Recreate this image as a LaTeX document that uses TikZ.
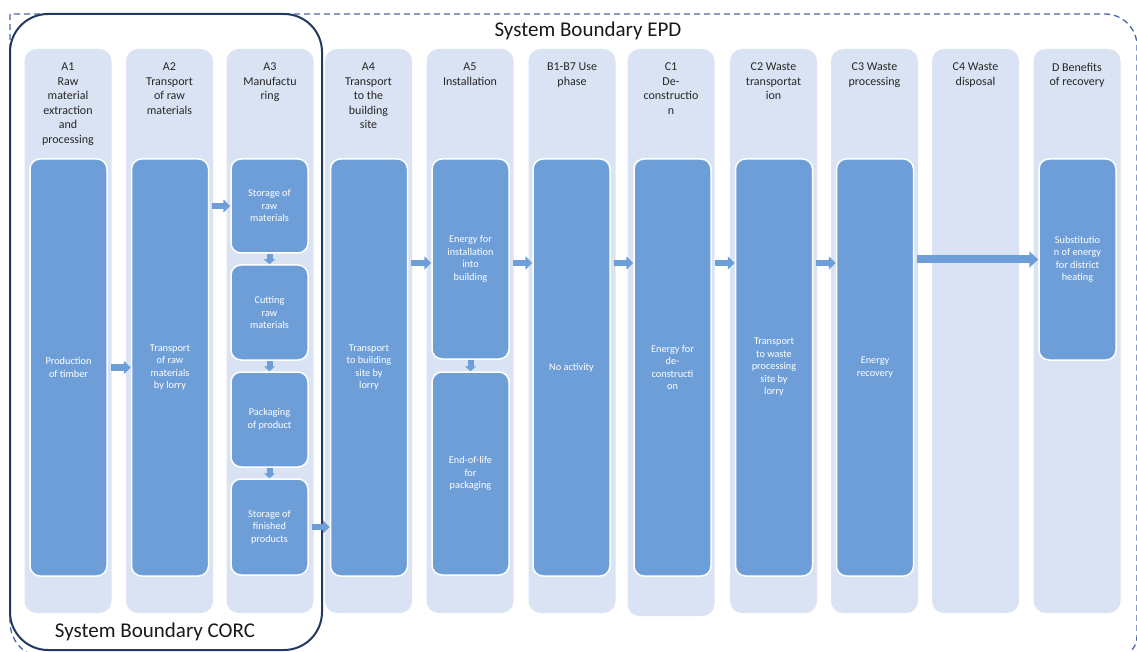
\documentclass[tikz,border=0pt]{standalone}
\usepackage{fontspec}
\setmainfont{Carlito}
\usetikzlibrary{arrows.meta}
\definecolor{panelfill}{RGB}{218,227,243}
\definecolor{boxfill}{RGB}{110,158,216}
\definecolor{corcline}{RGB}{34,56,98}
\definecolor{epdline}{RGB}{74,104,165}
\tikzset{
 panel/.style={draw=none, fill=panelfill, rounded corners=12pt, minimum width=87pt, inner sep=0pt},
 innerbox/.style={draw=white, line width=1.5pt, fill=boxfill, rounded corners=10pt, minimum width=77pt, inner sep=0pt, text=white, align=center, font=\fontsize{10.3}{12.5}\selectfont},
 header/.style={anchor=north, align=center, inner sep=0pt, font=\fontsize{12}{14.5}\selectfont, text=black!85},
 flow/.style={draw=boxfill, line width=6.5pt, shorten <=3pt, -{Triangle[length=7pt,width=13pt]}},
 bigflow/.style={draw=boxfill, line width=8pt, shorten <=3pt, -{Triangle[length=9pt,width=16pt]}},
 downflow/.style={draw=boxfill, line width=6pt, -{Triangle[length=5pt,width=11pt]}},
 boundlabel/.style={font=\fontsize{21}{25}\selectfont, inner sep=0pt, text=black!90},
 epd/.style={draw=epdline, line width=1.3pt, dash pattern=on 6pt off 4pt},
 corc/.style={draw=corcline, line width=2pt, rounded corners=38pt, minimum width=312pt, minimum height=636pt, inner sep=0pt},
}
\begin{document}
\begin{tikzpicture}[x=1pt,y=-1pt]
\useasboundingbox (0,0) rectangle (1137,652);
% EPD boundary
\draw[epd] (10,330) -- (10,14) [rounded corners=32pt] -- (1137,14) [rounded corners=22pt] -- (1137,658) [rounded corners=36pt] -- (10,658) [rounded corners=32pt] -- (10,330);
% panels
\node[panel, minimum height=564pt] (pA1) at (68,331) {};
\node[panel, minimum height=564pt] (pA2) at (169.5,331) {};
\node[panel, minimum height=564pt] (pA3) at (270,331) {};
\node[panel, minimum height=564pt] (pA4) at (368.5,331) {};
\node[panel, minimum height=564pt] (pA5) at (470,331) {};
\node[panel, minimum height=564pt] (pB) at (572,331) {};
\node[panel, minimum height=567pt] (pC1) at (671,332.5) {};
\node[panel, minimum height=564pt] (pC2) at (773.5,331) {};
\node[panel, minimum height=564pt] (pC3) at (874.5,331) {};
\node[panel, minimum height=564pt] (pC4) at (975.5,331) {};
\node[panel, minimum height=564pt] (pD) at (1077,331) {};
% CORC boundary
\node[corc] (corc) at (166,332) {};
% headers
\node[header] (hA1) at (68,63) {A1\\Raw\\material\\extraction\\and\\processing};
\node[header] (hA2) at (169.5,63) {A2\\Transport\\of raw\\materials};
\node[header] (hA3) at (270,63) {A3\\Manufactu\\ring};
\node[header] (hA4) at (368.5,63) {A4\\Transport\\to the\\building\\site};
\node[header] (hA5) at (470,63) {A5\\Installation};
\node[header] (hB) at (572,63) {B1-B7 Use\\phase};
\node[header] (hC1) at (671,63) {C1\\De-\\constructio\\n};
\node[header] (hC2) at (773.5,63) {C2 Waste\\transportat\\ion};
\node[header] (hC3) at (874.5,63) {C3 Waste\\processing};
\node[header] (hC4) at (975.5,63) {C4 Waste\\disposal};
\node[header] (hD) at (1077,63) {D Benefits\\of recovery};
% inner boxes
\node[innerbox, minimum height=417pt] (bA1) at (68.5,367.5) {Production\\of timber};
\node[innerbox, minimum height=417pt] (bA2) at (170,367.5) {Transport\\of raw\\materials\\by lorry};
\node[innerbox, minimum height=94pt] (bS1) at (269.5,206) {Storage of\\raw\\materials};
\node[innerbox, minimum height=95pt] (bS2) at (269.5,312.5) {Cutting\\raw\\materials};
\node[innerbox, minimum height=95pt] (bS3) at (269.5,419.5) {Packaging\\of product};
\node[innerbox, minimum height=96pt] (bS4) at (269.5,527) {Storage of\\finished\\products};
\node[innerbox, minimum height=417pt] (bA4) at (369,367.5) {Transport\\to building\\site by\\lorry};
\node[innerbox, minimum height=200pt] (bA5u) at (470.5,259) {Energy for\\installation\\into\\building};
\node[innerbox, minimum height=203pt] (bA5l) at (470.5,473.5) {End-of-life\\for\\packaging};
\node[innerbox, minimum height=417pt] (bB) at (571.5,367.5) {No activity};
\node[innerbox, minimum height=417pt] (bC1) at (672.5,367.5) {Energy for\\de-\\constructi\\on};
\node[innerbox, minimum height=417pt] (bC2) at (774,367.5) {Transport\\to waste\\processing\\site by\\lorry};
\node[innerbox, minimum height=417pt] (bC3) at (875,367.5) {Energy\\recovery};
\node[innerbox, minimum height=201pt] (bD) at (1077.5,259.5) {Substitutio\\n of energy\\for district\\heating};
% arrows
\coordinate (lvl) at (0,263);
\draw[flow] (bA1.east) -- (bA2.west);
\draw[flow] (bA2.east |- bS1.west) -- (bS1.west);
\draw[downflow] (bS1.south) -- (bS2.north);
\draw[downflow] (bS2.south) -- (bS3.north);
\draw[downflow] (bS3.south) -- (bS4.north);
\draw[flow] (bS4.east) -- (bS4.east -| bA4.west);
\draw[flow] (bA4.east |- lvl) -- (bA5u.west |- lvl);
\draw[downflow] (bA5u.south) -- (bA5l.north);
\draw[flow] (bA5u.east |- lvl) -- (bB.west |- lvl);
\draw[flow] (bB.east |- lvl) -- (bC1.west |- lvl);
\draw[flow] (bC1.east |- lvl) -- (bC2.west |- lvl);
\draw[flow] (bC2.east |- lvl) -- (bC3.west |- lvl);
\draw[bigflow] (bC3.east |- bD.west) -- (bD.west);
% boundary labels
\node[boundlabel] (epdlabel) at (588,31) {System Boundary EPD};
\node[boundlabel] (corclabel) at (155,632) {System Boundary CORC};
\end{tikzpicture}
\end{document}
